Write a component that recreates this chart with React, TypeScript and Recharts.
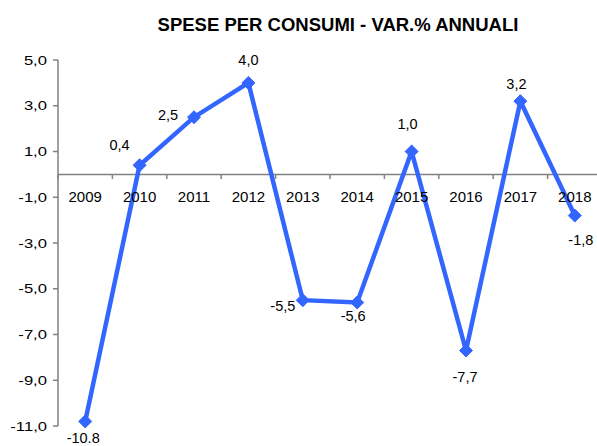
import React from 'react';
import { LineChart, Line, XAxis, YAxis, ReferenceLine, ReferenceDot, LabelList } from 'recharts';

const years = ['2009', '2010', '2011', '2012', '2013', '2014', '2015', '2016', '2017', '2018'];
const values = [-10.8, 0.4, 2.5, 4.0, -5.5, -5.6, 1.0, -7.7, 3.2, -1.8];
const valueLabels = ['-10.8', '0,4', '2,5', '4,0', '-5,5', '-5,6', '1,0', '-7,7', '3,2', '-1,8'];
const yTicks = [5, 3, 1, -1, -3, -5, -7, -9, -11];
const title = 'SPESE PER CONSUMI - VAR.% ANNUALI';

// label placement (style): offset of each value label from its point
const labelOffsets: [number, number][] = [
  [-2, 17], [-20, -20], [-26, -2], [0, -23], [-20, 6],
  [-4, 14], [-4, -28], [-1, 26], [-4, -17], [6, 24],
];

const data = years.map((y, i) => ({ i, year: y, v: values[i] }));
const boundaries = [...years.map((_, i) => i - 0.5), years.length - 0.5];

const FONT = '"Liberation Sans", Arial, sans-serif';
const BLUE = '#3366FF';
const GRAY = '#808080';

const fmt = (n: number) => n.toFixed(1).replace('.', ',');

const YTick = (props: any) => {
  const { x, y, payload } = props;
  return (
    <g transform={`translate(${x},${y})`}>
      <text
        transform="scale(1.28,1)"
        x={0}
        y={0}
        dy="0.355em"
        textAnchor="end"
        fontSize={13}
        fontFamily={FONT}
        fill="#000"
      >
        {fmt(payload.value)}
      </text>
    </g>
  );
};

const Diamond = (props: any) => {
  const { cx, cy } = props;
  if (cx == null || cy == null) return null;
  const r = 6.5;
  return (
    <polygon
      points={`${cx},${cy - r} ${cx + r},${cy} ${cx},${cy + r} ${cx - r},${cy}`}
      fill={BLUE}
      stroke={BLUE}
      strokeWidth={1}
    />
  );
};

const ValueLabel = (props: any) => {
  const { x, y, index } = props;
  if (x == null || y == null || index == null) return null;
  const [dx, dy] = labelOffsets[index] || [0, -15];
  return (
    <text
      x={x + dx}
      y={y + dy}
      textAnchor="middle"
      dominantBaseline="central"
      fontSize={14.5}
      fontFamily={FONT}
      fill="#000"
    >
      {valueLabels[index]}
    </text>
  );
};

export default function App() {
  return (
    <div
      style={{
        position: 'absolute',
        left: 0,
        top: 0,
        width: 597,
        height: 446,
        overflow: 'hidden',
        background: '#fff',
        fontFamily: FONT,
      }}
    >
      <div
        style={{
          position: 'absolute',
          left: 0,
          top: 15,
          width: 676,
          textAlign: 'center',
          fontSize: 18.5,
          lineHeight: '20px',
          fontWeight: 'bold',
          color: '#000',
          whiteSpace: 'nowrap',
        }}
      >
        {title}
      </div>
      <LineChart
        width={604}
        height={446}
        data={data}
        margin={{ top: 60, right: 2, bottom: 20, left: 0 }}
      >
        <XAxis type="number" dataKey="i" domain={[-0.5, 9.5]} hide />
        <YAxis
          type="number"
          domain={[-11, 5]}
          ticks={yTicks}
          interval={0}
          width={58}
          axisLine={{ stroke: GRAY, strokeWidth: 1.5 }}
          tickLine={{ stroke: GRAY, strokeWidth: 1.5 }}
          tickSize={5}
          tickMargin={6}
          tick={<YTick />}
        />
        <ReferenceLine y={0} stroke={GRAY} strokeWidth={1.5} />
        {boundaries.map((b) => (
          <ReferenceLine
            key={`t${b}`}
            segment={[{ x: b, y: 0 }, { x: b, y: -0.2 }]}
            stroke={GRAY}
            strokeWidth={1.5}
            ifOverflow="visible"
          />
        ))}
        {years.map((yr, i) => (
          <ReferenceDot
            key={`y${yr}`}
            x={i}
            y={0}
            r={0}
            fill="none"
            stroke="none"
            label={{ value: yr, position: 'bottom', offset: 17, fontSize: 15, fill: '#000', fontFamily: FONT }}
          />
        ))}
        <Line
          type="linear"
          dataKey="v"
          stroke={BLUE}
          strokeWidth={4.5}
          dot={<Diamond />}
          activeDot={false}
          isAnimationActive={false}
        >
          <LabelList dataKey="v" content={<ValueLabel />} />
        </Line>
      </LineChart>
    </div>
  );
}
